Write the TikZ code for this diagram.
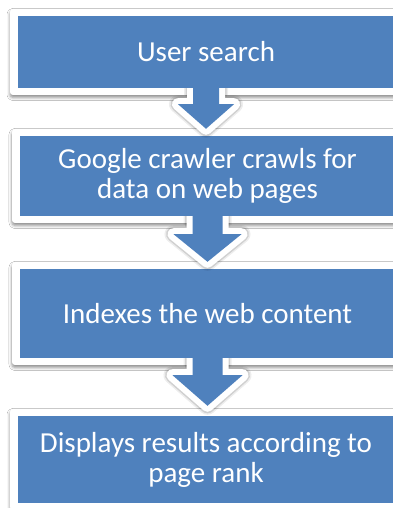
\documentclass[tikz,border=0pt]{standalone}
\usepackage{fontspec}
\setmainfont{Carlito}
\usetikzlibrary{shadows.blur,calc}
\definecolor{boxblue}{HTML}{4F81BD}
\tikzset{
  stepbox/.style={fill=boxblue, text=white, inner sep=0pt, align=center,
    font=\fontsize{29}{30}\selectfont},
  framefill/.style={fill=white, rounded corners=3pt,
    blur shadow={shadow xshift=0pt, shadow yshift=-2.5pt, shadow blur radius=3pt, shadow opacity=45}},
  arrowshade/.style={draw=black, line join=round, xshift=1pt, yshift=-3pt},
  arrowrim/.style={draw=white, line width=12pt, line join=round},
}
% #1 name, #2 x, #3 y, #4 width, #5 height, #6 text
\newcommand\mystepblock[6]{%
  \path[framefill] (#2-#4/2-8,#3-#5/2-7) rectangle (#2+#4/2+8,#3+#5/2+7);
  \node[stepbox, minimum width=#4pt, minimum height=#5pt] (#1) at (#2,#3) {#6};}
% #1 upper node, #2 lower node, #3 stem half width, #4 head half width, #5 shoulder drop, #6 tip gap
\newcommand\myflowarrow[6]{%
  \begin{scope}
    \clip let \p1=(#1.south) in (\x1-90pt,\y1) rectangle (\x1+90pt,\y1-200pt);
    \def\myarrowpath{let \p1=(#1.south), \p2=(#2.north) in
      (\x1-#3pt,\y1+4pt) -- (\x1-#3pt,\y1-#5pt) -- (\x1-#4pt,\y1-#5pt) -- (\x1,\y2+#6pt)
      -- (\x1+#4pt,\y1-#5pt) -- (\x1+#3pt,\y1-#5pt) -- (\x1+#3pt,\y1+4pt) -- cycle}
    \path[arrowshade, line width=18pt, opacity=.07] \myarrowpath;
    \path[arrowshade, line width=15pt, opacity=.12] \myarrowpath;
    \path[arrowrim] \myarrowpath;
    \fill[boxblue] \myarrowpath;
  \end{scope}}
\begin{document}
\begin{tikzpicture}[x=1pt,y=1pt]
\useasboundingbox (0,0) rectangle (393,508);
\begin{scope}
\clip (0,0) rectangle (393,508);
\fill[white] (0,0) rectangle (393,508);
\mystepblock{b1}{206}{456}{376}{72}{User search}
\mystepblock{b2}{207.5}{332}{375}{80}{Google crawler crawls for\\data on web pages}
\mystepblock{b3}{207.5}{194.5}{375}{89}{Indexes the web content}
\mystepblock{b4}{206}{48.5}{376}{87}{Displays results according to\\page rank}
\myflowarrow{b1}{b2}{13}{28}{16}{7}
\myflowarrow{b2}{b3}{15}{34}{18}{7}
\myflowarrow{b3}{b4}{15}{35}{17}{10}
\end{scope}
\end{tikzpicture}
\end{document}
